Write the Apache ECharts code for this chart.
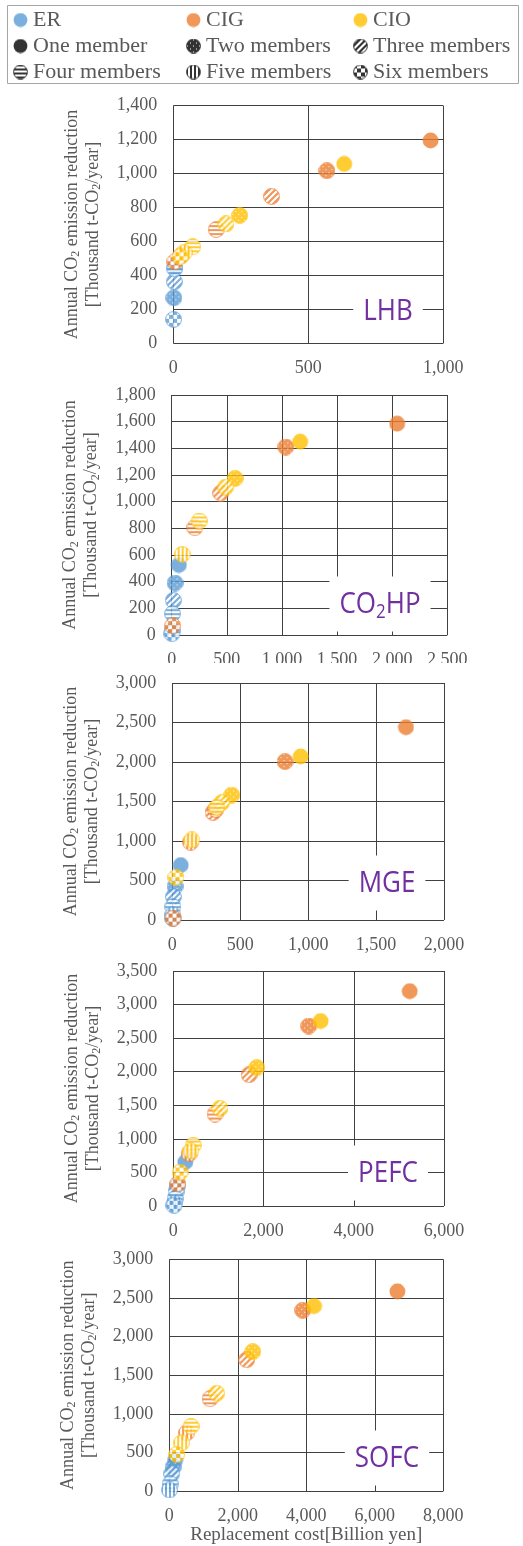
<!DOCTYPE html>
<html><head><meta charset="utf-8">
<script src="https://cdn.jsdelivr.net/npm/echarts@6/dist/echarts.min.js"></script>
<style>html,body{margin:0;padding:0;background:#fff}#c{width:523px;height:1546px}</style>
</head><body><div id="c"></div>
<script>
// ---------- categories ----------
const groups = ['ER', 'CIG', 'CIO'];
const members = ['One member', 'Two members', 'Three members', 'Four members', 'Five members', 'Six members'];
const panelNames = ['LHB', 'CO2HP', 'MGE', 'PEFC', 'SOFC'];

// ---------- axis ticks ----------
const yMax = [1400, 1800, 3000, 3500, 3000];
const yStep = [200, 200, 500, 500, 500];
const xMax = [1000, 2500, 2000, 6000, 8000];
const xStep = [500, 500, 500, 2000, 2000];

// ---------- data: [replacement cost, annual CO2 reduction] for one..six members ----------
const LHB_ER  = [[6, 448], [2, 268], [4, 363], [5, 440], null, [1, 141]];
const LHB_CIG = [[953, 1195], [569, 1017], [364, 866], [159, 670], [28, 515], [6, 481]];
const LHB_CIO = [[633, 1057], [246, 754], [195, 703], [72, 569], [40, 534], [25, 510]];

const CO2HP_ER  = [[65, 525], [30, 390], [15, 260], [8, 160], [4, 30], [2, 10]];
const CO2HP_CIG = [[2045, 1585], [1035, 1410], [445, 1065], [210, 805], null, [8, 70]];
const CO2HP_CIO = [[1165, 1450], [575, 1175], [490, 1110], [250, 855], [95, 605], null];

const MGE_ER  = [[62, 695], [20, 425], [8, 295], [5, 170], [4, 65], [3, 20]];
const MGE_CIG = [[1720, 2440], [830, 2005], [300, 1362], [320, 1400], [135, 985], [6, 25]];
const MGE_CIO = [[945, 2070], [437, 1582], [364, 1485], [327, 1426], [143, 1013], [27, 540]];

const PEFC_ER  = [[265, 655], [90, 300], [60, 215], [40, 110], [30, 40], [15, 10]];
const PEFC_CIG = [[5240, 3200], [3000, 2680], [1680, 1955], [925, 1370], [350, 780], [100, 330]];
const PEFC_CIO = [[3265, 2755], [1850, 2060], [1035, 1455], [443, 908], [390, 820], [150, 505]];

const SOFC_ER  = [[170, 400], [110, 310], [70, 225], [25, 95], [5, 15], null];
const SOFC_CIG = [[6660, 2585], [3895, 2340], [2260, 1700], [1190, 1195], [505, 755], null];
const SOFC_CIO = [[4225, 2395], [2435, 1805], [1384, 1266], [635, 840], [360, 625], [215, 475]];

const panelData = [
  [LHB_ER, LHB_CIG, LHB_CIO],
  [CO2HP_ER, CO2HP_CIG, CO2HP_CIO],
  [MGE_ER, MGE_CIG, MGE_CIO],
  [PEFC_ER, PEFC_CIG, PEFC_CIO],
  [SOFC_ER, SOFC_CIG, SOFC_CIO]
];

// ---------- styles ----------
const groupColors = ['#5B9BD5', '#ED7D31', '#FFC000'];
const kinds = ['solid', 'dots', 'diag', 'horiz', 'vert', 'check'];
const SERIF = 'Liberation Serif';
const TXT = '#595959';

function tileCanvas(kind, color) {
  const n = {dots: 6, diag: 6, horiz: 4, vert: 4, check: 8}[kind];
  const c = document.createElement('canvas');
  c.width = n; c.height = n;
  const g = c.getContext('2d');
  g.fillStyle = '#fff'; g.fillRect(0, 0, n, n);
  g.fillStyle = color;
  for (let x = 0; x < n; x++) for (let y = 0; y < n; y++) {
    let on;
    if (kind === 'dots') on = !((x === 1 && y === 1) || (x === 4 && y === 4));
    else if (kind === 'diag') on = ((x + y) % 6) < 3;
    else if (kind === 'horiz') on = (y % 4) < 2;
    else if (kind === 'vert') on = (x % 4) < 2;
    else on = ((Math.floor(x / 4) + Math.floor(y / 4)) % 2) === 0;
    if (on) g.fillRect(x, y, 1, 1);
  }
  return c;
}
const markerCache = {};
function markerImg(kind, color, size) {
  const key = kind + color + size;
  if (markerCache[key]) return markerCache[key];
  const c = document.createElement('canvas');
  c.width = size; c.height = size;
  const g = c.getContext('2d');
  g.beginPath();
  g.arc(size / 2, size / 2, size / 2 - 0.6, 0, Math.PI * 2);
  g.fillStyle = kind === 'solid' ? color : g.createPattern(tileCanvas(kind, color), 'repeat');
  g.fill();
  if (kind !== 'solid') { g.lineWidth = 1; g.strokeStyle = color; g.stroke(); }
  return (markerCache[key] = 'image://' + c.toDataURL());
}

const grids = [
  {left: 173.3, top: 105.7, width: 270, height: 237.6},
  {left: 171.7, top: 395, width: 275.6, height: 240},
  {left: 172.3, top: 683, width: 271.7, height: 237},
  {left: 173.3, top: 971, width: 270.7, height: 235},
  {left: 169.3, top: 1259.3, width: 274, height: 234.7}
];
const fmt = v => v.toLocaleString('en-US');
const gridLine = {show: true, lineStyle: {color: '#404040', width: 1}};
const yName = 'Annual CO{s|2} emission reduction\n[Thousand t-CO{s|2}/year]';

const xAxes = grids.map((g, i) => ({
  type: 'value', gridIndex: i, min: 0, max: xMax[i], interval: xStep[i],
  axisLine: {show: false}, axisTick: {show: false}, splitLine: gridLine,
  axisLabel: {formatter: fmt, fontFamily: SERIF, fontSize: 18, color: TXT, margin: 16},
  name: i === 4 ? 'Replacement cost[Billion yen]' : '', nameLocation: 'middle', nameGap: 32,
  nameTextStyle: {fontFamily: SERIF, fontSize: 19, color: TXT}
}));
const yAxes = grids.map((g, i) => ({
  type: 'value', gridIndex: i, min: 0, max: yMax[i], interval: yStep[i],
  axisLine: {show: false}, axisTick: {show: false}, splitLine: gridLine,
  axisLabel: {formatter: fmt, fontFamily: SERIF, fontSize: 18, color: TXT, margin: 16},
  name: yName, nameLocation: 'middle', nameGap: 70, nameRotate: 90,
  nameTextStyle: {fontFamily: SERIF, fontSize: 18, color: TXT, lineHeight: 21,
    rich: {s: {fontFamily: SERIF, fontSize: 12, color: TXT, lineHeight: 10, verticalAlign: 'bottom'}}}
}));

const series = [];
panelData.forEach((pd, pi) => pd.forEach((arr, gi) => {
  const col = groupColors[gi];
  series.push({
    type: 'scatter', name: groups[gi], xAxisIndex: pi, yAxisIndex: pi, symbolSize: 17,
    itemStyle: {color: col}, symbol: 'circle',
    emphasis: {disabled: true},
    data: arr.map((p, mi) => p ? {value: p, symbol: markerImg(kinds[mi], col, 17)} : null)
             .filter(Boolean)
  });
}));
members.forEach(m => series.push({
  type: 'scatter', name: m, xAxisIndex: 0, yAxisIndex: 0, data: [], itemStyle: {color: '#000'}
}));

const legendLeft = [13, 186, 353];
const legends = [0, 1, 2].map(ci => ({
  orient: 'vertical', left: legendLeft[ci], top: 9, padding: 0, itemGap: 4,
  itemWidth: 15, itemHeight: 15, icon: 'circle', selectedMode: false,
  textStyle: {fontFamily: SERIF, fontSize: 22, color: TXT},
  data: [
    {name: groups[ci], icon: markerImg('solid', groupColors[ci], 15)},
    {name: members[ci], icon: markerImg(kinds[ci], '#000', 15)},
    {name: members[ci + 3], icon: markerImg(kinds[ci + 3], '#000', 15)}
  ]
}));

const labelPos = [[388, 311], [380, 604], [387, 883], [388, 1173], [387, 1458]];
const labelFont = 'Open Sans';
const graphics = [
  {type: 'rect', shape: {x: 7.5, y: 5.5, width: 511, height: 78}, style: {fill: 'none', stroke: '#a6a6a6', lineWidth: 1}, z: 0},
  {type: 'rect', shape: {x: 150, y: 663, width: 320, height: 11}, style: {fill: '#fff'}, z: 50}
];
panelNames.forEach((nm, i) => {
  const txt = nm === 'CO2HP' ? '{a|CO}{s|2}{a|HP}' : '{a|' + nm + '}';
  graphics.push({
    type: 'text', x: labelPos[i][0], y: labelPos[i][1], scaleY: 1.15, z: 20,
    style: {
      text: txt, align: 'center', verticalAlign: 'middle',
      backgroundColor: '#fff', padding: [8, 10],
      rich: {
        a: {fontFamily: labelFont, fontSize: 26, fill: '#7030A0', lineHeight: 32},
        s: {fontFamily: labelFont, fontSize: 17, fill: '#7030A0', lineHeight: 16, verticalAlign: 'bottom'}
      }
    }
  });
});

const chart = echarts.init(document.getElementById('c'), null, {renderer: 'canvas'});
chart.setOption({
  animation: false,
  textStyle: {fontFamily: SERIF},
  grid: grids,
  xAxis: xAxes,
  yAxis: yAxes,
  legend: legends,
  series: series,
  graphic: graphics
});
</script>
</body></html>
